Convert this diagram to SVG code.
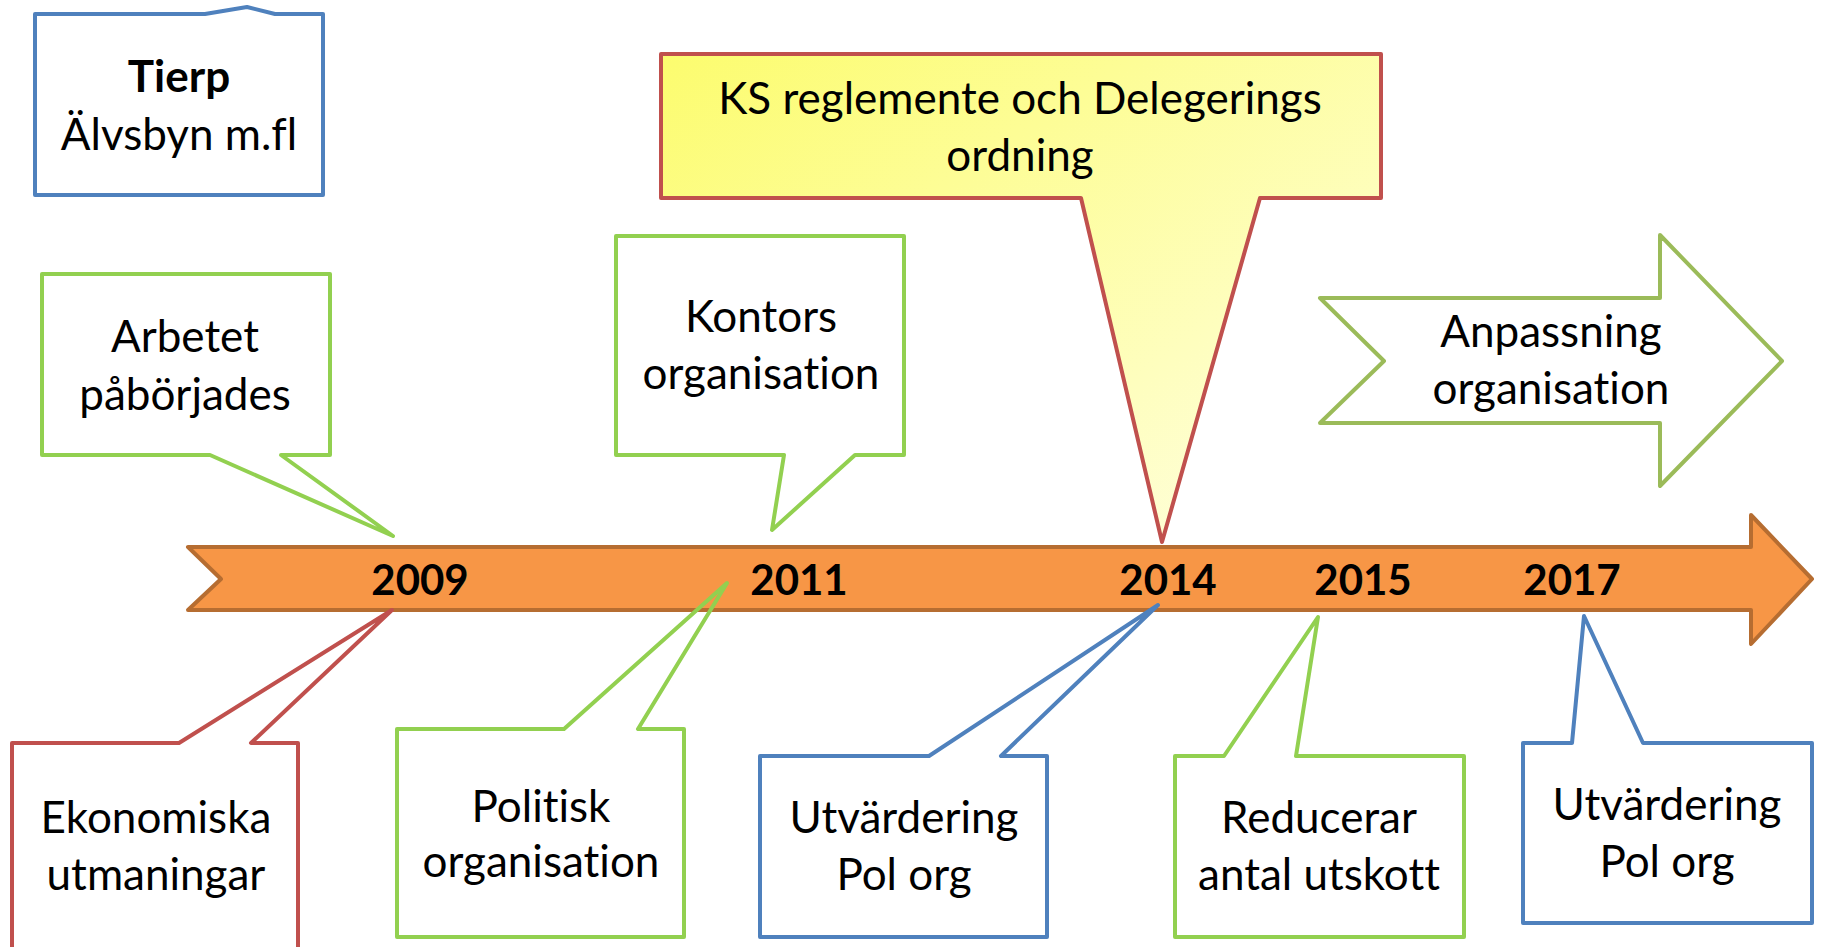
<svg xmlns="http://www.w3.org/2000/svg" width="1822" height="947" viewBox="0 0 1822 947">
<defs>
<linearGradient id="ksFill" x1="0" y1="0" x2="1" y2="1">
<stop offset="0" stop-color="#FCFC6E"/>
<stop offset="1" stop-color="#FFFFE6"/>
</linearGradient>
</defs>
<style>
.co{fill:none;stroke-width:4;stroke-linejoin:round}
.blue{stroke:#4F81BD}
.green{stroke:#92D050}
.red{stroke:#C0504D}
.olive{stroke:#9BBB59}
text{font-variant-ligatures:none;font-feature-settings:"liga" 0,"clig" 0}
.t{font-family:Lato,"Liberation Sans",sans-serif;font-size:44px;fill:#000;text-anchor:middle}
.b{font-weight:bold}
.yr{font-family:Lato,"Liberation Sans",sans-serif;font-size:42px;font-weight:bold;fill:#000;text-anchor:middle}
</style>
<rect width="1822" height="947" fill="#fff"/>
<g id="timeline">
<path d="M188,547 L1751,547 L1751,515 L1812,579 L1751,644 L1751,610 L188,610 L221,579 Z" fill="#F79646" stroke="#B66D31" stroke-width="4" stroke-linejoin="round"/>
<text class="yr" x="420" y="595">2009</text>
<text class="yr" x="799" y="595">2011</text>
<text class="yr" x="1168" y="595">2014</text>
<text class="yr" x="1363" y="595">2015</text>
<text class="yr" x="1572" y="595">2017</text>
</g>
<g id="connectors"></g>
<g id="tierp">
<path class="co blue" d="M35,14 L205,14 L247,7 L275,14 L323,14 L323,195 L35,195 Z"/>
<text class="t b" x="179" y="92">Tierp</text>
<text class="t" x="179" y="150">Älvsbyn m.fl</text>
</g>
<g id="arbetet">
<path class="co green" d="M42,274 L330,274 L330,455 L281,455 L393,536 L210,455 L42,455 Z"/>
<text class="t" x="185" y="352">Arbetet</text>
<text class="t" x="185" y="410">påbörjades</text>
</g>
<g id="kontors">
<path class="co green" d="M616,236 L904,236 L904,455 L855,455 L772,530 L784,455 L616,455 Z"/>
<text class="t" x="761" y="332">Kontors</text>
<text class="t" x="761" y="389">organisation</text>
</g>
<g id="ks">
<path class="red" d="M661,54 L1381,54 L1381,198 L1260,198 L1162,542 L1081,198 L661,198 Z" fill="url(#ksFill)" stroke-width="4" stroke-linejoin="round"/>
<text class="t" x="1020" y="114">KS reglemente och Delegerings</text>
<text class="t" x="1020" y="171">ordning</text>
</g>
<g id="anpassning">
<path class="co olive" d="M1320,298 L1660,298 L1660,235 L1782,361 L1660,486 L1660,423 L1320,423 L1384,361 Z"/>
<text class="t" x="1551" y="347">Anpassning</text>
<text class="t" x="1551" y="404">organisation</text>
</g>
<g id="ekonomiska">
<path class="co red" d="M12,743 L179,743 L392,610 L251,743 L298,743 L298,990 L12,990 Z"/>
<text class="t" x="156" y="833">Ekonomiska</text>
<text class="t" x="156" y="890">utmaningar</text>
</g>
<g id="politisk">
<path class="co green" d="M397,729 L564,729 L727,583 L638,729 L684,729 L684,937 L397,937 Z"/>
<text class="t" x="541" y="822">Politisk</text>
<text class="t" x="541" y="877">organisation</text>
</g>
<g id="utvardering2014">
<path class="co blue" d="M760,756 L929,756 L1158,605 L1001,756 L1047,756 L1047,937 L760,937 Z"/>
<text class="t" x="904" y="833">Utvärdering</text>
<text class="t" x="904" y="890">Pol org</text>
</g>
<g id="reducerar">
<path class="co green" d="M1175,756 L1224,756 L1318,617 L1296,756 L1464,756 L1464,937 L1175,937 Z"/>
<text class="t" x="1319" y="833">Reducerar</text>
<text class="t" x="1319" y="890">antal utskott</text>
</g>
<g id="utvardering2017">
<path class="co blue" d="M1523,743 L1572,743 L1584,616 L1643,743 L1812,743 L1812,923 L1523,923 Z"/>
<text class="t" x="1667" y="820">Utvärdering</text>
<text class="t" x="1667" y="877">Pol org</text>
</g>
</svg>
